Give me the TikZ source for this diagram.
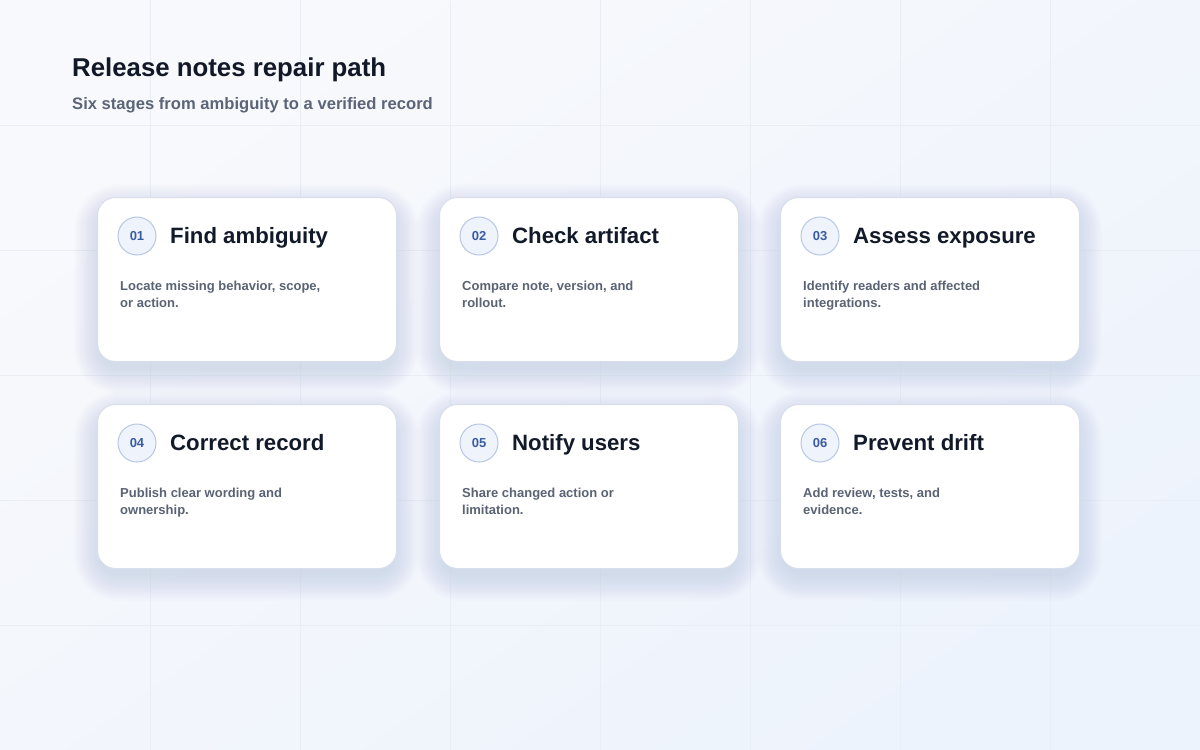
\documentclass[tikz,border=0pt]{standalone}
\usepackage{fontspec}
\setmainfont{Liberation Sans}
\usetikzlibrary{calc}
\definecolor{bgA}{HTML}{F8F9FC}
\definecolor{bgB}{HTML}{EDF3FC}
\definecolor{gridc}{HTML}{E9EDF4}
\definecolor{titlec}{HTML}{111827}
\definecolor{subc}{HTML}{5B6577}
\definecolor{cardborder}{HTML}{D8DEEA}
\definecolor{shadowc}{HTML}{8290B0}
\definecolor{circfill}{HTML}{EEF3FC}
\definecolor{circborder}{HTML}{B7C7E4}
\definecolor{numc}{HTML}{3A5BA0}
\definecolor{headc}{HTML}{121A2A}
\definecolor{descc}{HTML}{5A6374}
\tikzset{
  cardbox/.style={draw=cardborder, line width=1pt, fill=white, rounded corners=18pt,
    minimum width=299pt, minimum height=164pt, inner sep=0pt},
  numcirc/.style={circle, draw=circborder, line width=1pt, fill=circfill,
    minimum size=38pt, inner sep=0pt, text=numc, font=\bfseries\fontsize{13}{15}\selectfont},
  headtext/.style={anchor=base west, inner sep=0pt, text=headc, font=\bfseries\fontsize{22.2}{26}\selectfont},
  desctext/.style={anchor=base west, inner sep=0pt, text=descc, align=left,
    font=\bfseries\fontsize{13}{17}\selectfont},
}
\newcommand{\stagecard}[6]{%
  % #1 name, #2 left x, #3 top y, #4 number, #5 heading, #6 description
  \foreach \i in {1,...,18}{
    \pgfmathsetmacro{\rr}{18+1.5*\i}
    \fill[shadowc, opacity=0.011, rounded corners=\rr pt]
      ($(#2,#3)+(-1.5*\i+4,-1.5*\i+14)$) rectangle
      ($(#2+299,#3+164)+(1.5*\i-4,1.5*\i+6)$);
  }
  \node[cardbox, anchor=north west] (#1) at (#2,#3) {};
  \node[numcirc] (#1n) at ($(#1.north west)+(40,39)$) {#4};
  \node[headtext] (#1h) at ($(#1.north west)+(73,46)$) {#5};
  \node[desctext] (#1d) at ($(#1.north west)+(23,110)$) {#6};
}
\begin{document}
\begin{tikzpicture}[x=1pt,y=-1pt]
\useasboundingbox (0,0) rectangle (1200,750);
\shade[top color=bgA, bottom color=bgB, shading angle=35] (0,0) rectangle (1200,750);
\foreach \gx in {150,300,...,1050} \draw[gridc, line width=1pt] (\gx,0) -- (\gx,750);
\foreach \gy in {125,250,...,625} \draw[gridc, line width=1pt] (0,\gy) -- (1200,\gy);

\node[anchor=base west, inner sep=0pt, text=titlec, font=\bfseries\fontsize{25.8}{30}\selectfont] (title) at (72,76) {Release notes repair path};
\node[anchor=base west, inner sep=0pt, text=subc, font=\bfseries\fontsize{16.6}{20}\selectfont] (subtitle) at (72,109) {Six stages from ambiguity to a verified record};

\stagecard{s1}{97}{197}{01}{Find ambiguity}{Locate missing behavior, scope,\\or action.}
\stagecard{s2}{439}{197}{02}{Check artifact}{Compare note, version, and\\rollout.}
\stagecard{s3}{780}{197}{03}{Assess exposure}{Identify readers and affected\\integrations.}
\stagecard{s4}{97}{404}{04}{Correct record}{Publish clear wording and\\ownership.}
\stagecard{s5}{439}{404}{05}{Notify users}{Share changed action or\\limitation.}
\stagecard{s6}{780}{404}{06}{Prevent drift}{Add review, tests, and\\evidence.}
\end{tikzpicture}
\end{document}
